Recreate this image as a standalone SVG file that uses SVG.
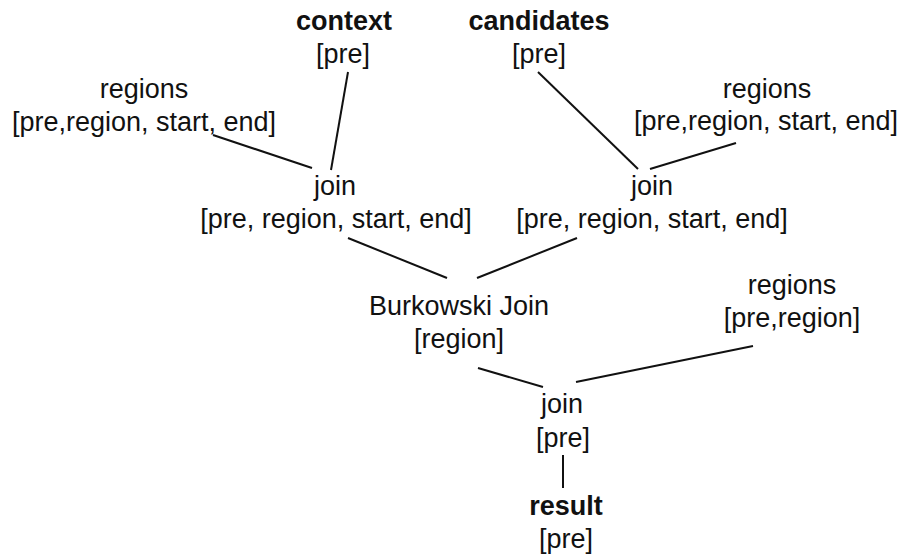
<svg xmlns="http://www.w3.org/2000/svg" width="902" height="556" viewBox="0 0 902 556">
  <style>
    text { font-family: "Liberation Sans", Arial, sans-serif; font-size: 27px; fill: #111; text-anchor: middle; }
    .b { font-weight: bold; }
    .edge { stroke: #111; stroke-width: 2; fill: none; }
  </style>
  <rect width="902" height="556" fill="#fff"/>
  <g id="connectors">
    <line class="edge" x1="348" y1="72" x2="331" y2="170"/>
    <line class="edge" x1="213" y1="135" x2="312" y2="168"/>
    <line class="edge" x1="538" y1="72" x2="638" y2="169"/>
    <line class="edge" x1="650" y1="169" x2="736" y2="143"/>
    <line class="edge" x1="348" y1="238" x2="447" y2="278"/>
    <line class="edge" x1="477" y1="278" x2="577" y2="238"/>
    <line class="edge" x1="478" y1="368" x2="543" y2="387"/>
    <line class="edge" x1="576" y1="382" x2="753" y2="346"/>
    <line class="edge" x1="563" y1="455" x2="563" y2="488"/>
  </g>
  <g id="context"><text class="b" x="344" y="30">context</text><text x="343" y="63">[pre]</text></g>
  <g id="candidates"><text class="b" x="539" y="30">candidates</text><text x="539" y="63">[pre]</text></g>
  <g id="regions-left"><text x="144" y="98">regions</text><text x="144" y="131">[pre,region, start, end]</text></g>
  <g id="regions-right"><text x="767" y="98">regions</text><text x="766" y="130">[pre,region, start, end]</text></g>
  <g id="join-left"><text x="335" y="195">join</text><text x="336" y="228">[pre, region, start, end]</text></g>
  <g id="join-right"><text x="652" y="195">join</text><text x="652" y="228">[pre, region, start, end]</text></g>
  <g id="burkowski-join"><text x="459" y="315">Burkowski Join</text><text x="459" y="348">[region]</text></g>
  <g id="regions-bottom"><text x="792" y="294">regions</text><text x="792" y="327">[pre,region]</text></g>
  <g id="join-bottom"><text x="562" y="413">join</text><text x="563" y="447">[pre]</text></g>
  <g id="result"><text class="b" x="566" y="515">result</text><text x="566" y="548">[pre]</text></g>
</svg>
